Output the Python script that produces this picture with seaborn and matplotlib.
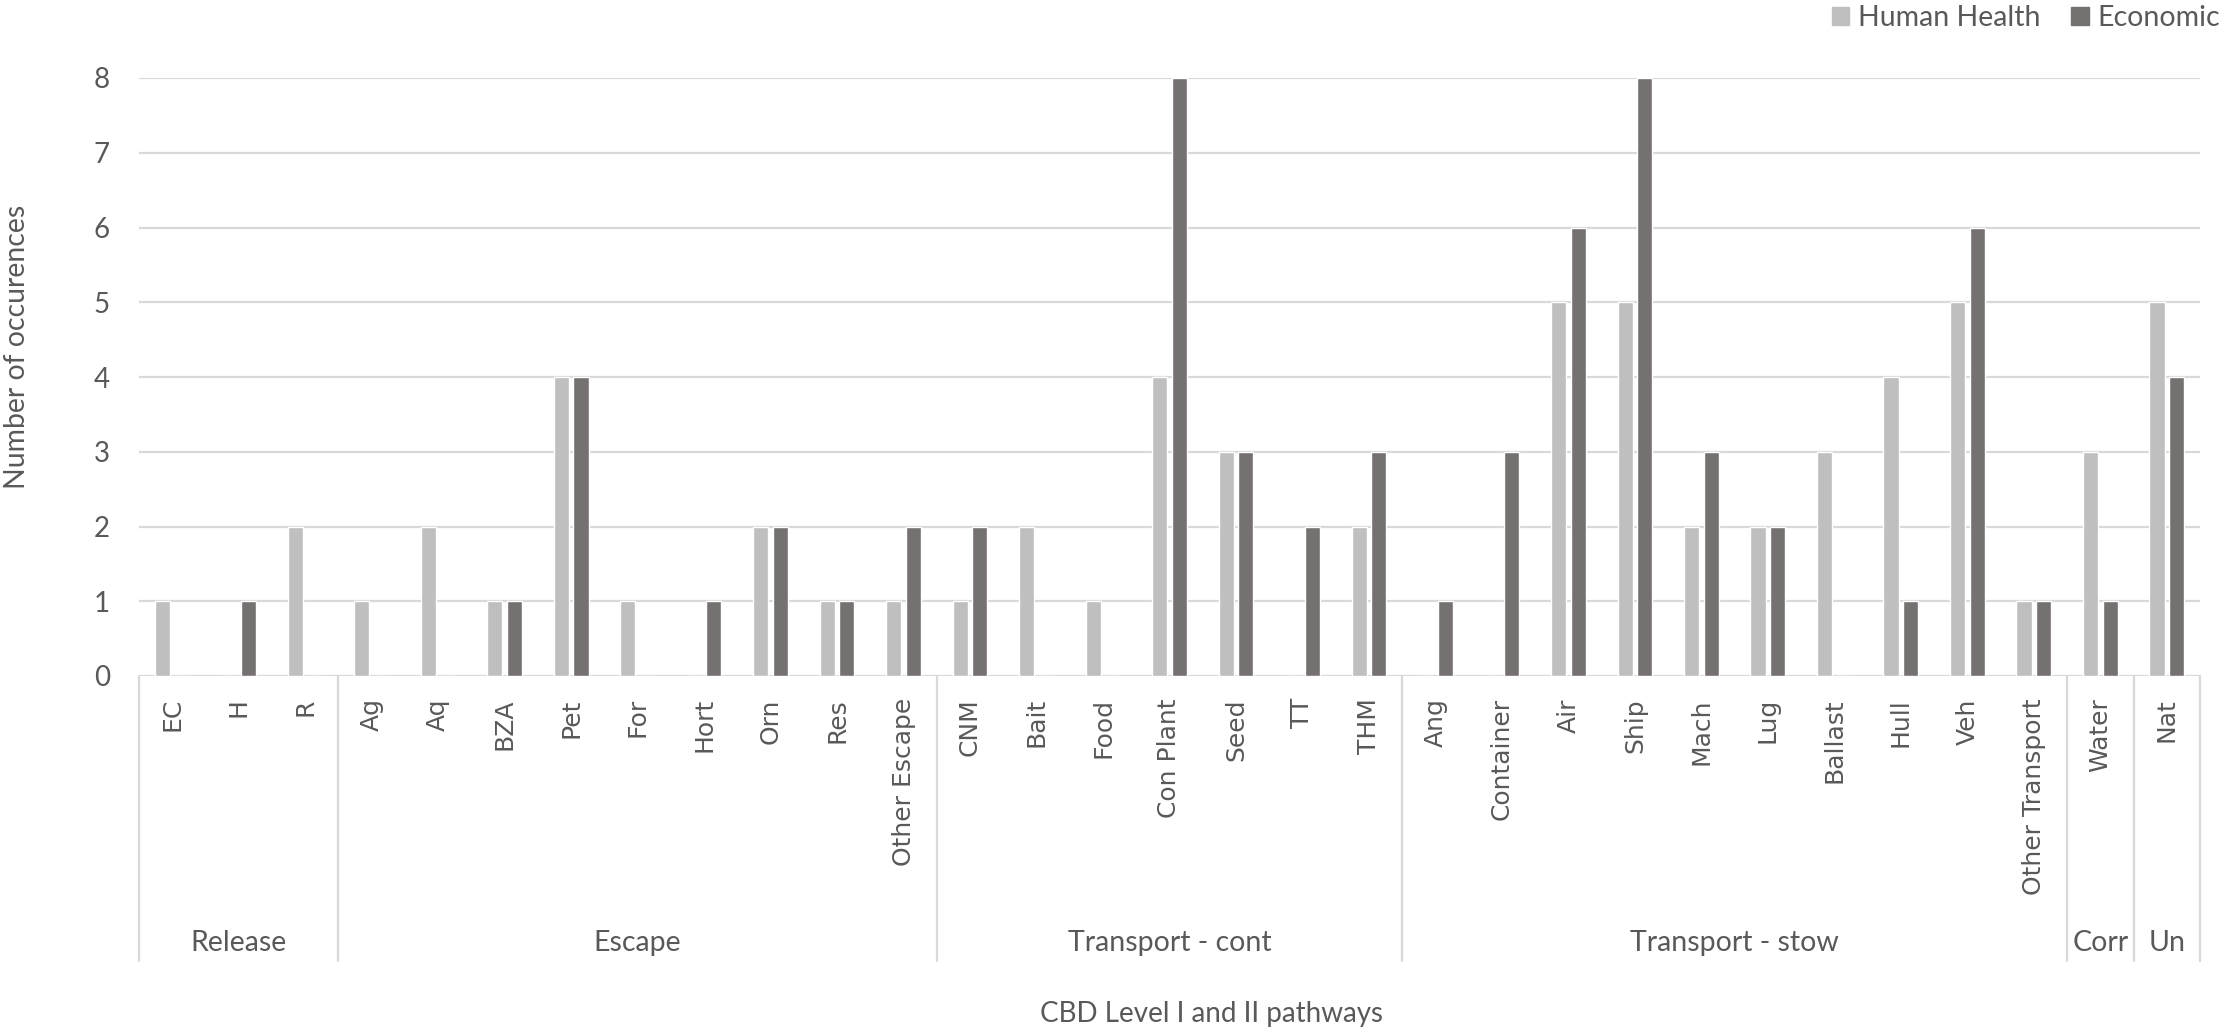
import numpy as np
import pandas as pd
import seaborn as sns
import matplotlib.pyplot as plt
import matplotlib.transforms as mtransforms
from matplotlib.patches import Patch

# categories (level II) and their groups (level I)
pathways = ["EC", "H", "R",
            "Ag", "Aq", "BZA", "Pet", "For", "Hort", "Orn", "Res", "Other Escape",
            "CNM", "Bait", "Food", "Con Plant", "Seed", "TT", "THM",
            "Ang", "Container", "Air", "Ship", "Mach", "Lug", "Ballast", "Hull", "Veh", "Other Transport",
            "Water",
            "Nat"]
groups = ["Release", "Escape", "Transport - cont", "Transport - stow", "Corr", "Un"]
group_sizes = [3, 9, 7, 10, 1, 1]

human_health = [1, 0, 2,
                1, 2, 1, 4, 1, 0, 2, 1, 1,
                1, 2, 1, 4, 3, 0, 2,
                0, 0, 5, 5, 2, 2, 3, 4, 5, 1,
                3,
                5]
economic = [0, 1, 0,
            0, 0, 1, 4, 0, 1, 2, 1, 2,
            2, 0, 0, 8, 3, 2, 3,
            1, 3, 6, 8, 3, 2, 0, 1, 6, 1,
            1,
            4]

df = pd.DataFrame({
    "pathway": pathways * 2,
    "type": ["Human Health"] * len(pathways) + ["Economic"] * len(pathways),
    "count": human_health + economic,
})

light = "#BFBFBF"
dark = "#767171"
txt = "#595959"
grid = "#D9D9D9"

sns.set_theme(style="white")
plt.rcParams['font.family'] = ['Lato', 'DejaVu Sans']

W, H = 2227, 1034
fig = plt.figure(figsize=(W / 100, H / 100), dpi=100)
left, right, y0, y8 = 139, 2200, 676, 78
ax = fig.add_axes([left / W, 1 - y0 / H, (right - left) / W, (y0 - y8) / H])

sns.barplot(data=df, x="pathway", y="count", hue="type", order=pathways,
            palette={"Human Health": light, "Economic": dark},
            width=0.59, gap=0.23, saturation=1, legend=False, ax=ax, zorder=3)

ax.set_ylim(0, 8)
ax.set_xlim(-0.5, len(pathways) - 0.5)
ax.set_yticks(range(0, 9))
ax.yaxis.grid(True, color=grid, lw=1.6, zorder=0)
ax.set_axisbelow(True)
for s in ax.spines.values():
    s.set_visible(False)
ax.tick_params(axis="y", length=0, pad=21, labelsize=20, labelcolor=txt)
ax.tick_params(axis="x", length=0, pad=16)
ax.set_xticks(range(len(pathways)))
ax.set_xticklabels(pathways, rotation=90, va="top", ha="center",
                   fontsize=18, color=txt, family="DejaVu Sans")
ax.set_xlabel("")
ax.set_ylabel("")

# group separators and group labels
trans = mtransforms.blended_transform_factory(ax.transData, ax.transAxes)
low = (y0 - 961) / (y0 - y8)
bounds = np.concatenate([[0], np.cumsum(group_sizes)]) - 0.5
for b in bounds:
    ax.plot([b, b], [0, low], transform=trans, color=grid, lw=1.6, clip_on=False)
lab_y = (y0 - 943) / (y0 - y8)
for g, a, b in zip(groups, bounds[:-1], bounds[1:]):
    ax.text((a + b) / 2, lab_y, g, transform=trans, ha="center", va="center",
            fontsize=20.5, color=txt)

fig.text(1211 / W, 1 - 1014 / H, "CBD Level I and II pathways", ha="center", va="center",
         fontsize=20, color=txt)
fig.text(17 / W, 1 - 347 / H, "Number of occurences", rotation=90, ha="center", va="center",
         fontsize=20.4, color=txt)

handles = [Patch(color=light, label="Human Health"), Patch(color=dark, label="Economic")]
fig.legend(handles=handles, loc="center left", bbox_to_anchor=(1832 / W, 1 - 18 / H),
           ncol=2, frameon=False, fontsize=20.5, labelcolor=txt, handlelength=0.6,
           handleheight=0.6, handletextpad=0.3, columnspacing=1.1, borderpad=0,
           borderaxespad=0)

fig.savefig("out.png", dpi=100)
